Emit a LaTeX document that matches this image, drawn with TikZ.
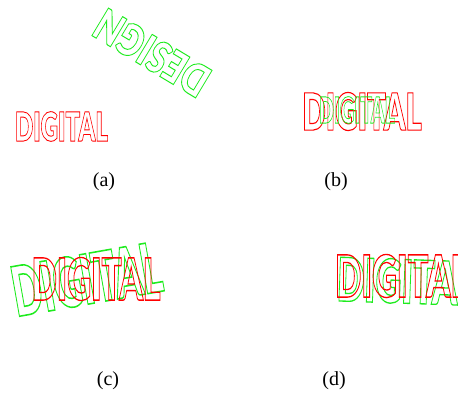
\documentclass[tikz,border=0pt]{standalone}
\usepackage{fontspec}
\setmainfont{Liberation Serif}
\newfontfamily\digfont{Lato}[UprightFont={* Black}]
\definecolor{outred}{RGB}{255,0,0}
\definecolor{outgreen}{RGB}{30,235,30}
\newcommand{\outltext}[1]{\special{pdf:literal 1 Tr 0.9 w}#1\special{pdf:literal 0 Tr}}
\tikzset{
  word/.style={inner sep=0pt, font=\digfont\fontsize{40}{40}\selectfont},
  redword/.style={word, text=outred},
  greenword/.style={word, text=outgreen},
  caption/.style={inner sep=0pt, font=\fontsize{20}{24}\selectfont}
}
\begin{document}
\begin{tikzpicture}[x=1pt,y=-1pt]
\useasboundingbox (0,0) rectangle (458,394);
% (a)
\node[redword, xscale=0.60, anchor=center] (a1) at (61.5,126.5) {\outltext{DIGITAL}};
\node[greenword, rotate=149, xscale=0.85, yscale=1.1, anchor=center] (a2) at (152,53) {\outltext{DESIGN}};
\node[caption] (ca) at (104,182) {(a)};
% (b)
\node[redword, xscale=0.77, yscale=1.28, anchor=center] (b1) at (362,111.5) {\outltext{DIGITAL}};
\node[greenword, xscale=0.49, yscale=0.9, anchor=center] (b2) at (357,110) {\outltext{DIGITAL}};
\node[caption] (cb) at (336,182) {(b)};
% (c)
\node[greenword, rotate=10, xscale=0.97, yscale=1.72, anchor=center] (c2) at (86.5,279) {\outltext{DIGITAL}};
\node[redword, xscale=0.83, yscale=1.45, anchor=center] (c1) at (96,279) {\outltext{DIGITAL}};
\node[caption] (cc) at (108,381) {(c)};
% (d)
\node[greenword, rotate=-2, xscale=0.9, yscale=1.5, anchor=west] (d2) at (337,279) {\outltext{DIGITAL}};
\node[redword, xscale=0.86, yscale=1.45, anchor=west] (d1) at (335,276) {\outltext{DIGITAL}};
\node[caption] (cd) at (334,381) {(d)};
\end{tikzpicture}
\end{document}
